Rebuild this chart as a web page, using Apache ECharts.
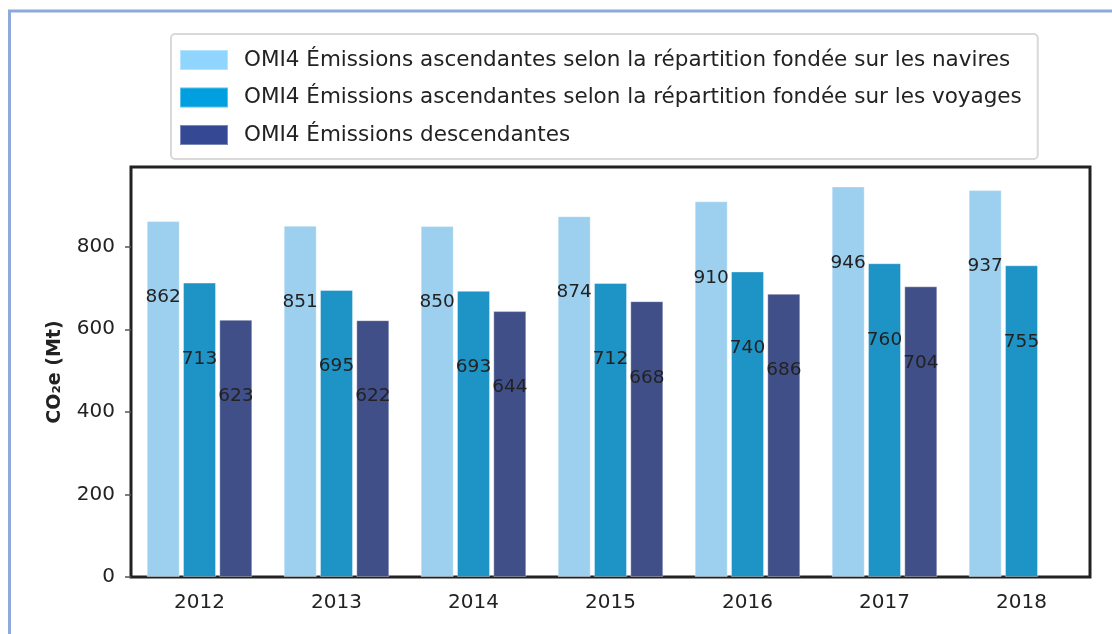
<!DOCTYPE html>
<html>
<head>
<meta charset="utf-8">
<script src="https://cdn.jsdelivr.net/npm/echarts@6/dist/echarts.min.js"></script>
<style>
  html, body { margin: 0; padding: 0; background: #fff; }
  #chart { width: 1112px; height: 634px; }
</style>
</head>
<body>
<div id="chart"></div>
<script>
// data
const years = ["2012", "2013", "2014", "2015", "2016", "2017", "2018"];
const shipBased = [862, 851, 850, 874, 910, 946, 937];
const voyageBased = [713, 695, 693, 712, 740, 760, 755];
const bottomUp = [623, 622, 644, 668, 686, 704, null];
const seriesNames = [
  "OMI4 Émissions ascendantes selon la répartition fondée sur les navires",
  "OMI4 Émissions ascendantes selon la répartition fondée sur les voyages",
  "OMI4 Émissions descendantes",
];

const FONT = "DejaVu Sans";
const barColors = ["#9dd0ef", "#1e93c6", "#404f88"];
const legendColors = ["#8fd5fd", "#00a0e0", "#344893"];

const chart = echarts.init(document.getElementById("chart"));

function barSeries(i, data) {
  return {
    name: seriesNames[i],
    type: "bar",
    data: data,
    barWidth: 33,
    barGap: "10%",
    itemStyle: {
      color: barColors[i],
      borderColor: "rgba(255,255,255,0.35)",
      borderWidth: 1,
    },
    label: {
      show: true,
      position: "insideTop",
      distance: 67,
      color: "#222",
      fontFamily: FONT,
      fontSize: 18.5,
    },
  };
}

chart.setOption({
  animation: false,
  textStyle: { fontFamily: FONT },
  graphic: [
    {
      // light blue page frame (left + top edges only visible)
      type: "rect",
      shape: { x: 9.5, y: 11, width: 1200, height: 700 },
      style: { fill: "none", stroke: "#8eaadb", lineWidth: 3 },
      silent: true,
    },
  ],
  legend: {
    orient: "vertical",
    left: 171,
    top: 34,
    itemWidth: 48,
    itemHeight: 20,
    itemGap: 15.5,
    padding: [15, 16, 13, 8],
    backgroundColor: "#fff",
    borderColor: "#d9d9d9",
    borderWidth: 2,
    borderRadius: 4,
    icon: "rect",
    textStyle: {
      color: "#222",
      fontFamily: FONT,
      fontSize: 21.5,
      padding: [0, 0, 0, 11],
    },
    data: seriesNames.map((n, i) => ({
      name: n,
      itemStyle: { color: legendColors[i] },
    })),
  },
  grid: {
    left: 131,
    right: 22,
    top: 167,
    bottom: 57,
    show: true,
    borderColor: "#222",
    borderWidth: 3,
    backgroundColor: "transparent",
  },
  xAxis: {
    type: "category",
    data: years,
    axisLine: { show: false },
    axisTick: { show: false },
    axisLabel: {
      color: "#222",
      fontFamily: FONT,
      fontSize: 20,
      margin: 16,
    },
  },
  yAxis: {
    type: "value",
    min: 0,
    max: 993,
    interval: 200,
    name: "CO₂e (Mt)",
    nameLocation: "middle",
    nameGap: 66,
    nameTextStyle: {
      color: "#222",
      fontFamily: FONT,
      fontSize: 19,
      fontWeight: "bold",
    },
    axisLine: { show: false },
    axisTick: {
      show: true,
      length: 6,
      lineStyle: { color: "#555", width: 1.5 },
    },
    splitLine: { show: false },
    axisLabel: {
      color: "#222",
      fontFamily: FONT,
      fontSize: 20,
      margin: 16,
      showMaxLabel: false,
    },
  },
  series: [
    barSeries(0, shipBased),
    barSeries(1, voyageBased),
    barSeries(2, bottomUp),
  ],
});
</script>
</body>
</html>
